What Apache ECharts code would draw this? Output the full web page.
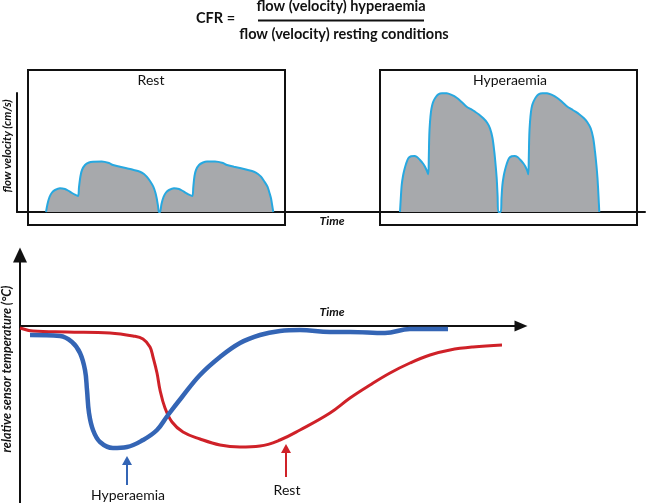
<!DOCTYPE html>
<html><head><meta charset="utf-8">
<script src="https://cdn.jsdelivr.net/npm/echarts@6/dist/echarts.min.js"></script>
<style>html,body{margin:0;padding:0;background:#fff}#c{width:646px;height:503px}</style>
</head><body><div id="c"></div>
<script>
// ---- Data ----
// Top panel: flow velocity waveforms, [time, velocity] (arbitrary units)
const restFlow = [
 [29,0],[30.5,8],[32.5,15],[35,19.5],[38,22],[43,23.7],[48,23],[51,21.5],[55,19],[58,17.3],[61,16],
 [62,25],[63.5,36],[65,42],[68,47],[72,49.5],[76,50.3],[84.7,50.5],[92,49],[96,47],[103,45.3],[109.7,43.7],[116,42.2],[123,40.3],[127,38],[129.7,35.3],[133,31],[136.3,25.3],[138.5,19],[139.7,13.7],[141,6],[142,0],
 [143,0],[144.5,8],[146.5,15],[149,19.5],[152,22],[157,23.7],[162,23],[165,21.5],[169,19],[172,17.3],[175.3,16],
 [176.3,25],[177.5,36],[179,42],[182,47],[186,49.5],[190,50.5],[198,50.5],[206,49],[210,47],[217,45.3],[224,43.7],[230,42.2],[237,40.3],[241,38],[244,35.3],[247,31],[250.5,25.3],[252.5,19],[254,13.7],[255.3,6],[256.3,0]
];
const hyperFlow = [
 [383,0],[383.8,14],[384.7,27],[386,36],[387.3,42],[389,48],[391.3,53.7],[394,55.7],[397.3,56],[400,55],[403,52],[406,48.5],[408,45.3],[410,41],[411.3,37.7],
 [411.8,55],[412.3,77],[413,90],[414,100.3],[415,106],[416.3,110.3],[418.5,114.5],[421.3,117.7],[425,118.8],[429.7,118.7],[434,117.3],[439.7,114.3],[445,109.7],[449.7,105.3],[454,102.8],[458,100.3],[462,97.5],[466.3,93.7],[470,89.5],[473,83.7],[475.5,74],[477.3,60.3],[478.7,46],[479.7,33.7],[480.6,16],[481.3,0],
 [483.7,0],[484.5,14],[485.4,27],[486.7,36],[488,42],[489.7,48],[492,53.7],[494.7,55.7],[497.5,56],[500.5,55],[503.5,52],[506.5,48.5],[508.5,45.3],[510.3,41],[511.3,37.7],
 [511.8,55],[512.3,77],[513,90],[514,100.3],[515,106],[516.5,110.3],[518.7,114.5],[521.5,117.7],[525.5,118.8],[530,118.7],[534.5,117.3],[540,114.3],[545.5,109.7],[550.5,105.3],[554.5,102.8],[558.5,100.3],[562.5,97.5],[567,93.7],[570.5,89.5],[573.7,83.7],[576.2,74],[578,60.3],[579.5,46],[580.5,33.7],[581.5,16],[582.3,0]
];
// Bottom panel: relative sensor temperature, [time, temperature] (arbitrary units)
const restTemp = [[0,-2],[13,-5],[47,-6],[90,-7],[113,-10],[123,-13],[130,-21],[133,-31],[137,-47],[140,-64],[145,-82],[152,-96],[163,-106],[180,-113],[200,-119],[220,-121],[240,-120],[260,-114],[280,-104],[310,-87],[330,-72],[350,-59],[370,-47],[390,-37],[410,-29],[430,-24],[453,-21],[482,-19]];
const hyperTemp = [[10,-9],[40,-10],[52,-16],[60,-27],[65,-44],[67,-64],[69,-87],[73,-104],[80,-116],[93,-122],[107,-121],[123,-114],[137,-104],[148,-89],[162,-71],[180,-49],[200,-31],[220,-17],[240,-9],[260,-5],[280,-4],[310,-6],[330,-6],[365,-7],[390,-3],[428,-3]];
// Texts
const formulaLeft = 'CFR =';
const formulaNum = 'flow (velocity) hyperaemia';
const formulaDen = 'flow (velocity) resting conditions';
const panelTitles = ['Rest', 'Hyperaemia'];
const timeLabel = 'Time';
const flowAxisLabel = 'flow velocity (cm/s)';
const tempAxisLabel = 'relative sensor temperature (°C)';
const curveLabels = ['Hyperaemia', 'Rest'];

// ---- Styles ----
const FONT = 'Lato, "Open Sans", sans-serif';
const BLUE = '#3465b5', RED = '#cf2128', WAVE_LINE = '#27a8e0', WAVE_FILL = '#a7a9ac', INK = '#111';

const chart = echarts.init(document.getElementById('c'), null, {renderer: 'canvas'});
const hiddenAxis = {axisTick:{show:false}, axisLabel:{show:false}, splitLine:{show:false}};
function txt(text, x, y, size, weight, style, extra, align) {
  return Object.assign({type:'text', x:x, y:y, z:100, style:{text:text, fill:INK, fontFamily:FONT, fontSize:size, fontWeight:weight, fontStyle:style||'normal', align:align||'center', verticalAlign:'middle'}}, extra||{});
}
function arrow(x, tip, base, end, color) {
  return [
    {type:'line', z:100, shape:{x1:x, y1:base, x2:x, y2:end}, style:{stroke:color, lineWidth:2}},
    {type:'polygon', z:100, shape:{points:[[x, tip],[x-5, base+1],[x+5, base+1]]}, style:{fill:color}}
  ];
}
const option = {
  animation: false,
  backgroundColor: '#fff',
  grid: [
    {left:17, top:93, width:628, height:119},
    {left:20, top:255, width:501, height:248}
  ],
  xAxis: [
    Object.assign({type:'value', gridIndex:0, min:0, max:628, axisLine:{show:true, lineStyle:{color:INK, width:2}}}, hiddenAxis),
    Object.assign({type:'value', gridIndex:1, min:0, max:501, axisLine:{show:true, onZero:true, symbol:['none','triangle'], symbolSize:[11,13], lineStyle:{color:INK, width:2}}}, hiddenAxis)
  ],
  yAxis: [
    Object.assign({type:'value', gridIndex:0, min:0, max:119, axisLine:{show:true, lineStyle:{color:INK, width:2}}}, hiddenAxis),
    Object.assign({type:'value', gridIndex:1, min:-177, max:71, axisLine:{show:true, onZero:false, symbol:['none','triangle'], symbolSize:[14,15], lineStyle:{color:INK, width:2}}}, hiddenAxis)
  ],
  series: [
    {type:'line', xAxisIndex:0, yAxisIndex:0, data:restFlow, smooth:0.3, showSymbol:false, lineStyle:{color:WAVE_LINE, width:2}, areaStyle:{color:WAVE_FILL, opacity:1}, z:3},
    {type:'line', xAxisIndex:0, yAxisIndex:0, data:hyperFlow, smooth:0.3, showSymbol:false, lineStyle:{color:WAVE_LINE, width:2}, areaStyle:{color:WAVE_FILL, opacity:1}, z:3},
    {type:'line', xAxisIndex:1, yAxisIndex:1, data:restTemp, smooth:0.4, showSymbol:false, lineStyle:{color:RED, width:3}, z:3},
    {type:'line', xAxisIndex:1, yAxisIndex:1, data:hyperTemp, smooth:0.4, showSymbol:false, lineStyle:{color:BLUE, width:4.5}, z:4}
  ],
  graphic: [
    txt(formulaLeft, 196, 18, 14.5, 'bold', 'normal', null, 'left'),
    txt(formulaNum, 341, 6, 14.5, 'bold'),
    {type:'line', z:100, shape:{x1:258, y1:20.5, x2:424, y2:20.5}, style:{stroke:INK, lineWidth:2}},
    txt(formulaDen, 344, 34, 14.5, 'bold'),
    {type:'rect', z:90, shape:{x:28, y:70, width:257, height:155}, style:{fill:null, stroke:INK, lineWidth:2}},
    {type:'rect', z:90, shape:{x:380, y:70, width:257, height:155}, style:{fill:null, stroke:INK, lineWidth:2}},
    txt(panelTitles[0], 151, 80, 14, 'normal'),
    txt(panelTitles[1], 510, 80, 14, 'normal'),
    txt(timeLabel, 332, 221, 12, 'bold', 'italic'),
    txt(flowAxisLabel, 7, 146, 11.5, 'bold', 'italic', {rotation:Math.PI/2}),
    txt(timeLabel, 332, 312, 12, 'bold', 'italic'),
    txt(tempAxisLabel, 7, 369, 12.5, 'bold', 'italic', {rotation:Math.PI/2}),
    ...arrow(127, 456, 464, 485, BLUE),
    ...arrow(286, 444, 452, 477, RED),
    txt(curveLabels[0], 128, 495, 14, 'normal'),
    txt(curveLabels[1], 287, 490, 14, 'normal')
  ]
};
chart.setOption(option);
</script>
</body></html>
